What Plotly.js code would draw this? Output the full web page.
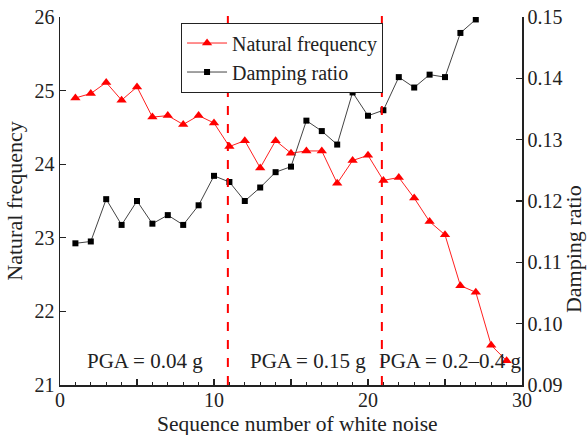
<!DOCTYPE html>
<html>
<head>
<meta charset="utf-8">
<script src="https://cdn.plot.ly/plotly-3.0.1.min.js"></script>
<style>
html,body{margin:0;padding:0;background:#fff;}
#chart{width:588px;height:435px;}
#chart text{font-family:'Liberation Serif','Times New Roman',serif !important;}
</style>
</head>
<body>
<div id="chart"></div>
<script>
// Data
const freqX = [1,2,3,4,5,6,7,8,9,10,11,12,13,14,15,16,17,18,19,20,21,22,23,24,25,26,27,28,29];
const naturalFrequency = [24.90,24.96,25.11,24.87,25.05,24.64,24.66,24.54,24.66,24.56,24.24,24.32,23.95,24.32,24.15,24.18,24.18,23.74,24.05,24.12,23.78,23.82,23.54,23.22,23.04,22.35,22.26,21.54,21.33];
const dampX = [1,2,3,4,5,6,7,8,9,10,11,12,13,14,15,16,17,18,19,20,21,22,23,24,25,26,27];
const dampingRatio = [0.1131,0.1134,0.1203,0.1161,0.1200,0.1163,0.1177,0.1161,0.1193,0.1241,0.1231,0.1200,0.1222,0.1247,0.1256,0.1331,0.1314,0.1292,0.1377,0.1339,0.1348,0.1402,0.1385,0.1406,0.1402,0.1474,0.1496];
const stageBounds = [10.9, 20.9];
const stageLabels = ["PGA = 0.04 g", "PGA = 0.15 g", "PGA = 0.2–0.4 g"];
const stageLabelX = [5.5, 16.1, 25.3];
const xTickVals = [0,5,10,15,20,25,30];
const xTickText = ["0","","10","","20","","30"];
const xTitle = "Sequence number of white noise";
const yTitle = "Natural frequency";
const y2Title = "Damping ratio";

const FONT = "Liberation Serif";
const INK = "#222";

const traces = [
  {x: freqX, y: naturalFrequency, name: "Natural frequency", type: "scatter", mode: "lines+markers",
   line: {color: "#ff2020", width: 1}, marker: {symbol: "triangle-up", size: 9, color: "#ff0000"}, yaxis: "y"},
  {x: dampX, y: dampingRatio, name: "Damping ratio", type: "scatter", mode: "lines+markers",
   line: {color: "#444444", width: 1}, marker: {symbol: "square", size: 6, color: "#000000"}, yaxis: "y2"}
];

const shapes = stageBounds.map(v => ({type: "line", xref: "x", yref: "paper", x0: v, x1: v, y0: 0, y1: 1.02,
  line: {color: "#ff0000", width: 2, dash: "dash"}}));

const annotations = stageLabels.map((t, i) => ({text: t, x: stageLabelX[i], xref: "x", y: 0.065, yref: "paper",
  showarrow: false, xanchor: "center", yanchor: "middle", font: {family: FONT, size: 21, color: INK}}));
annotations.push({text: xTitle, xref: "paper", yref: "paper", x: 0.515, y: -0.107, showarrow: false,
  xanchor: "center", yanchor: "middle", font: {family: FONT, size: 21.5, color: INK}});
annotations.push({text: y2Title, xref: "paper", yref: "paper", x: 1.113, y: 0.37, showarrow: false, textangle: -90,
  xanchor: "center", yanchor: "middle", font: {family: FONT, size: 22, color: INK}});

const layout = {
  width: 588, height: 435,
  margin: {l: 60, r: 66, t: 17, b: 50},
  paper_bgcolor: "#fff", plot_bgcolor: "#fff",
  font: {family: FONT, size: 20, color: INK},
  showlegend: true,
  legend: {x: 0.262, y: 0.985, xanchor: "left", yanchor: "top", bgcolor: "#fff", bordercolor: INK, borderwidth: 1,
    font: {family: FONT, size: 20, color: INK}, itemwidth: 40, tracegroupgap: 0},
  xaxis: {range: [0, 30], tickvals: xTickVals, ticktext: xTickText, ticks: "inside", ticklen: 6, tickwidth: 1.2, tickcolor: INK,
    minor: {dtick: 1, ticks: "inside", ticklen: 3, tickwidth: 1, tickcolor: INK},
    showline: true, linecolor: INK, linewidth: 1.5, showgrid: false, zeroline: false,
    ticklabelstandoff: -4,
    tickfont: {family: FONT, size: 20, color: INK}},
  yaxis: {range: [21, 26], dtick: 1, ticks: "inside", ticklen: 6, tickwidth: 1.2, tickcolor: INK,
    showline: true, linecolor: INK, linewidth: 1.5, showgrid: false, zeroline: false,
    tickfont: {family: FONT, size: 20, color: INK},
    title: {text: yTitle, font: {family: FONT, size: 22, color: INK}, standoff: 6}},
  yaxis2: {range: [0.09, 0.15], dtick: 0.01, tickformat: ".2f", overlaying: "y", side: "right",
    ticks: "inside", ticklen: 6, tickwidth: 1.2, tickcolor: INK,
    showline: true, linecolor: INK, linewidth: 1.5, showgrid: false, zeroline: false,
    tickfont: {family: FONT, size: 20, color: INK}},
  shapes: shapes,
  annotations: annotations
};

Plotly.newPlot("chart", traces, layout, {displayModeBar: false, staticPlot: true});
</script>
</body>
</html>
